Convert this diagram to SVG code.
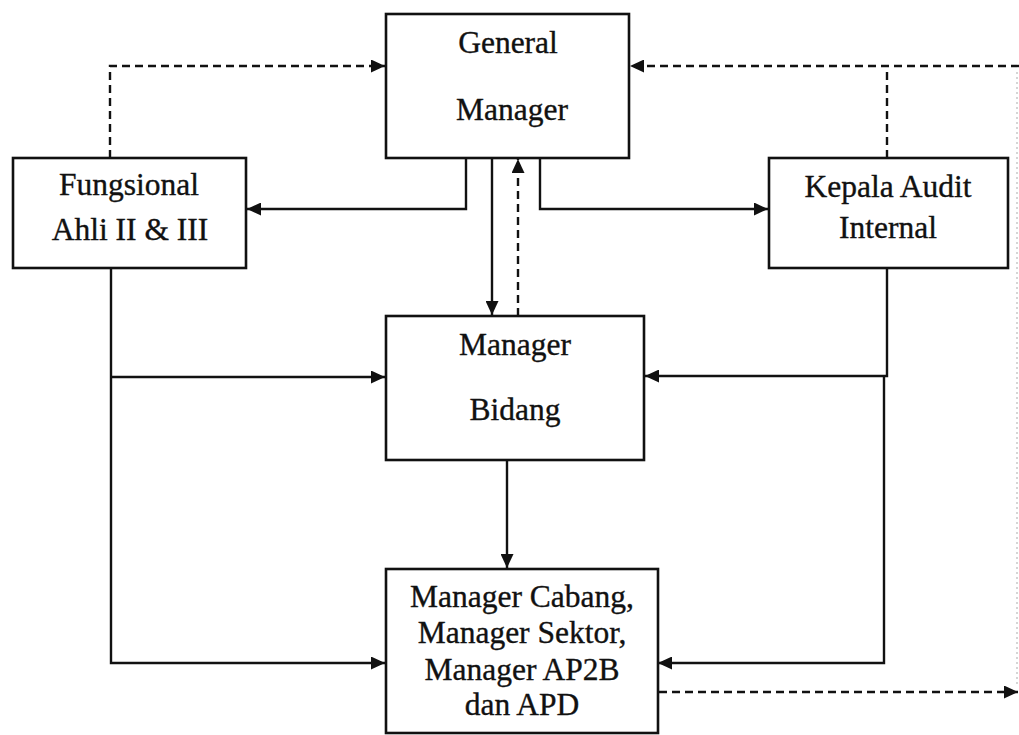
<svg xmlns="http://www.w3.org/2000/svg" width="1019" height="735" viewBox="0 0 1019 735">
<style>
.box{fill:#fff;stroke:#111;stroke-width:2.6}
.t{font-family:"Liberation Serif","Times New Roman",serif;font-size:31.5px;fill:#111;stroke:#111;stroke-width:0.35;text-anchor:middle}
.c{fill:none;stroke:#111;stroke-width:2.4}
.d{fill:none;stroke:#111;stroke-width:2.4;stroke-dasharray:8 5}
.f{fill:none;stroke:#c8c8c8;stroke-width:1.5;stroke-dasharray:2 3}
</style>
<defs>
<marker id="ah" markerUnits="userSpaceOnUse" markerWidth="15" markerHeight="13" refX="14" refY="6.5" orient="auto">
<path d="M0,0 L14,6.5 L0,13 z" fill="#111"/>
</marker>
</defs>
<rect width="1019" height="735" fill="#fff"/>
<g id="connectors">
<path class="d" d="M110,158 V66 H385" marker-end="url(#ah)"/>
<path class="d" d="M1019,66 H630" marker-end="url(#ah)"/>
<path class="d" d="M887,158 V66"/>
<path class="f" d="M1017,72 V686"/>
<path class="c" d="M466,158 V209 H247" marker-end="url(#ah)"/>
<path class="c" d="M540,158 V209 H768" marker-end="url(#ah)"/>
<path class="c" d="M492,158 V315" marker-end="url(#ah)"/>
<path class="d" d="M518,316 V159" marker-end="url(#ah)"/>
<path class="c" d="M111,268 V663 H385" marker-end="url(#ah)"/>
<path class="c" d="M111,377 H385" marker-end="url(#ah)"/>
<path class="c" d="M887,268 V376 H645" marker-end="url(#ah)"/>
<path class="c" d="M884,376 V663 H658" marker-end="url(#ah)"/>
<path class="c" d="M507,460 V568" marker-end="url(#ah)"/>
<path class="d" d="M659,692 H1018" marker-end="url(#ah)"/>
</g>
<g id="general-manager">
<rect class="box" x="386" y="14" width="243" height="144"/>
<text class="t" x="508" y="53">General</text>
<text class="t" x="512" y="120">Manager</text>
</g>
<g id="fungsional">
<rect class="box" x="13" y="158" width="233" height="110"/>
<text class="t" x="129" y="195">Fungsional</text>
<text class="t" x="130" y="240">Ahli II &amp; III</text>
</g>
<g id="kepala-audit">
<rect class="box" x="769" y="158" width="239" height="110"/>
<text class="t" x="888" y="197">Kepala Audit</text>
<text class="t" x="888" y="238">Internal</text>
</g>
<g id="manager-bidang">
<rect class="box" x="386" y="316" width="258" height="144"/>
<text class="t" x="515" y="355">Manager</text>
<text class="t" x="515" y="420">Bidang</text>
</g>
<g id="manager-cabang">
<rect class="box" x="386" y="569" width="272" height="164"/>
<text class="t" x="522" y="607">Manager Cabang,</text>
<text class="t" x="522" y="643">Manager Sektor,</text>
<text class="t" x="522" y="680">Manager AP2B</text>
<text class="t" x="522" y="715">dan APD</text>
</g>
</svg>
